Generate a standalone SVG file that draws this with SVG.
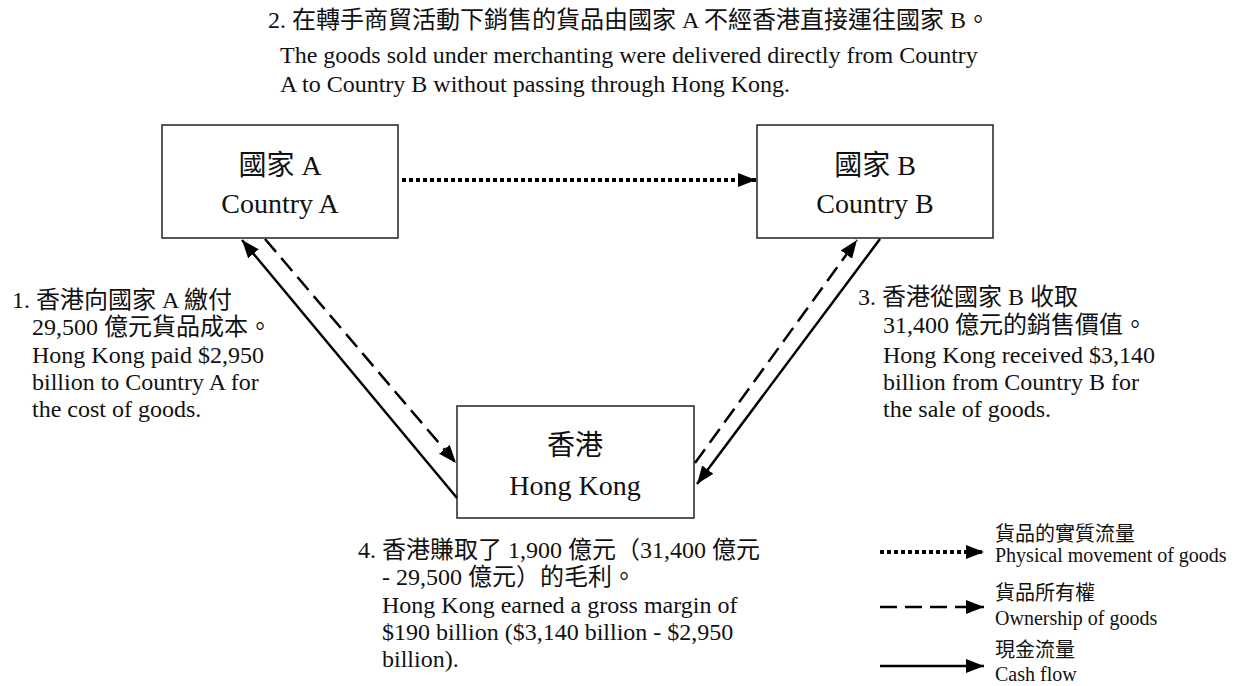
<svg xmlns="http://www.w3.org/2000/svg" width="1239" height="686" viewBox="0 0 1239 686">
<style>
text{font-family:"Liberation Serif","Noto Sans CJK TC",serif;fill:#111}
.box{fill:#fff;stroke:#222;stroke-width:1.5}
.bt{font-size:28px;text-anchor:middle}
.d{font-size:24px}
.lg{font-size:20px}
.ln{fill:none;stroke:#000;stroke-width:2.5}
.dash{stroke-dasharray:17 8}
.dot{stroke-width:4;stroke-dasharray:4 3}
</style>
<defs>
<marker id="ah" markerUnits="userSpaceOnUse" markerWidth="19" markerHeight="15" refX="18" refY="7" orient="auto">
<path d="M0,0 L18,7 L0,14 z" fill="#000"/>
</marker>
</defs>
<rect width="1239" height="686" fill="#fff"/>

<g id="note2">
<text class="d" x="268" y="28">2. 在轉手商貿活動下銷售的貨品由國家 A 不經香港直接運往國家 B。</text>
<text class="d" x="280" y="63">The goods sold under merchanting were delivered directly from Country</text>
<text class="d" x="280" y="92">A to Country B without passing through Hong Kong.</text>
</g>

<g id="countryA">
<rect class="box" x="162" y="125" width="236" height="113"/>
<text class="bt" x="280" y="175">國家 A</text>
<text class="bt" x="280" y="213">Country A</text>
</g>

<g id="countryB">
<rect class="box" x="757" y="125" width="236" height="113"/>
<text class="bt" x="875" y="175">國家 B</text>
<text class="bt" x="875" y="213">Country B</text>
</g>

<g id="hongkong">
<rect class="box" x="457" y="406" width="237" height="112"/>
<text class="bt" x="575" y="455">香港</text>
<text class="bt" x="575" y="495">Hong Kong</text>
</g>

<g id="connectors">
<line class="ln dot" x1="402" y1="180" x2="756" y2="180" marker-end="url(#ah)"/>
<line class="ln" x1="457" y1="498" x2="242" y2="240" marker-end="url(#ah)"/>
<line class="ln dash" x1="265" y1="239" x2="456" y2="463" marker-end="url(#ah)"/>
<line class="ln" x1="880" y1="239" x2="697" y2="484" marker-end="url(#ah)"/>
<line class="ln dash" x1="695" y1="463" x2="857" y2="240" marker-end="url(#ah)"/>
</g>

<g id="note1">
<text class="d" x="12" y="308">1. 香港向國家 A 繳付</text>
<text class="d" x="32" y="335">29,500 億元貨品成本。</text>
<text class="d" x="32" y="363">Hong Kong paid $2,950</text>
<text class="d" x="32" y="390">billion to Country A for</text>
<text class="d" x="32" y="417">the cost of goods.</text>
</g>

<g id="note3">
<text class="d" x="858" y="305">3. 香港從國家 B 收取</text>
<text class="d" x="883" y="333">31,400 億元的銷售價值。</text>
<text class="d" x="883" y="363">Hong Kong received $3,140</text>
<text class="d" x="883" y="390">billion from Country B for</text>
<text class="d" x="883" y="417">the sale of goods.</text>
</g>

<g id="note4">
<text class="d" x="358" y="558">4. 香港賺取了 1,900 億元（31,400 億元</text>
<text class="d" x="382" y="585">- 29,500 億元）的毛利。</text>
<text class="d" x="382" y="613">Hong Kong earned a gross margin of</text>
<text class="d" x="382" y="640">$190 billion ($3,140 billion - $2,950</text>
<text class="d" x="382" y="667">billion).</text>
</g>

<g id="legend">
<line class="ln dot" x1="880" y1="552" x2="984" y2="552" stroke-dasharray="4 4" marker-end="url(#ah)"/>
<line class="ln dash" x1="880" y1="607" x2="984" y2="607" stroke-dasharray="13 9" marker-end="url(#ah)"/>
<line class="ln" x1="880" y1="666" x2="984" y2="666" marker-end="url(#ah)"/>
<text class="lg" x="995" y="541">貨品的實質流量</text>
<text class="lg" x="995" y="562">Physical movement of goods</text>
<text class="lg" x="995" y="600">貨品所有權</text>
<text class="lg" x="995" y="625">Ownership of goods</text>
<text class="lg" x="995" y="657">現金流量</text>
<text class="lg" x="995" y="681">Cash flow</text>
</g>
</svg>
